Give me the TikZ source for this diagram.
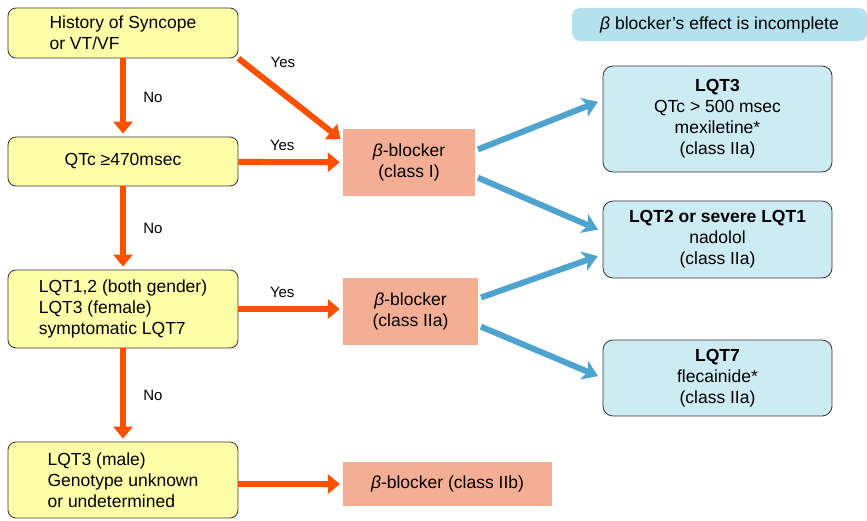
\documentclass[tikz,border=0pt]{standalone}
\usepackage{fontspec}
\setmainfont{Liberation Sans}
\usepackage{tikz}
\usetikzlibrary{arrows.meta}

\definecolor{qyellow}{HTML}{FFFFAA}
\definecolor{qsalmon}{HTML}{F4AE93}
\definecolor{qpale}{HTML}{CDEBF2}
\definecolor{qnote}{HTML}{B3E1EE}
\definecolor{qred}{HTML}{FF5000}
\definecolor{qblue}{HTML}{4FA3CF}
\newcommand{\bb}{\textit{β}}

\begin{document}
\begin{tikzpicture}[x=1pt,y=-1pt,
	every node/.style={font=\fontsize{17.5}{21}\selectfont},
	cond/.style={draw=black!80,line width=0.8pt,fill=qyellow,rounded corners=8pt,minimum width=230pt,align=left},
	drug/.style={fill=qsalmon,align=center},
	rec/.style={draw=black!80,line width=0.8pt,fill=qpale,rounded corners=10pt,minimum width=229pt,align=center},
	note/.style={fill=qnote,rounded corners=8pt,minimum width=295pt,minimum height=33pt},
	yesno/.style={text=black,font=\fontsize{15}{18}\selectfont},
	go/.style={qred,line width=6pt,shorten >=3pt,-{Triangle[length=12pt,width=19pt]}},
	more/.style={qblue,line width=6pt,shorten >=5pt,shorten <=3pt,-{Stealth[length=15pt,width=20pt,inset=4pt]}}]
	\useasboundingbox (0,0) rectangle (867,520);
	
	\node[cond,minimum height=50pt] (hist) at (123,33) {History of Syncope\\or VT/VF};
	\node[cond,minimum height=49pt,align=center] (qtc) at (123,161.5) {QTc ≥470msec};
	\node[cond,minimum height=78pt] (gene) at (123,309) {LQT1,2 (both gender)\\LQT3 (female)\\symptomatic LQT7};
	\node[cond,minimum height=76pt] (male) at (123,480) {LQT3 (male)\\Genotype unknown\\or undetermined};
	
	\node[drug,minimum width=132pt,minimum height=67pt] (bbI) at (409,162.5) {\bb-blocker\\(class I)};
	\node[drug,minimum width=135pt,minimum height=67pt] (bbIIa) at (410.5,311.5) {\bb-blocker\\(class IIa)};
	\node[drug,minimum width=209pt,minimum height=44pt] (bbIIb) at (447.5,484) {\bb-blocker (class IIb)};
	
	\node[note] (head) at (719.5,24.5) {\bb{} blocker’s effect is incomplete\hspace{10pt}};
	\node[rec,minimum height=106pt] (lqtA) at (717.5,119) {\textbf{LQT3}\\QTc > 500 msec\\mexiletine*\\(class IIa)};
	\node[rec,minimum height=77pt] (lqtB) at (717.5,239.5) {\textbf{LQT2 or severe LQT1}\\nadolol\\(class IIa)};
	\node[rec,minimum height=76pt] (lqtC) at (717.5,378) {\textbf{LQT7}\\flecainide*\\(class IIa)};
	
	\draw[go] (hist) -- node[yesno,right=14pt] (no1) {No} (qtc);
	\draw[go] (qtc) -- node[yesno,right=14pt] (no2) {No} (gene);
	\draw[go] (gene) -- node[yesno,right=14pt] (no3) {No} (male);
	
	\draw[go] (hist.south east) -- node[yesno,pos=0.22,above right=3pt] (yes1) {Yes} ([yshift=-12pt]bbI.north west);
	\draw[go] (qtc) -- node[yesno,pos=0.42,above=5pt] (yes2) {Yes} (bbI);
	\draw[go] (gene.east) -- node[yesno,pos=0.42,above=5pt] (yes3) {Yes} (gene.east -| bbIIa.west);
	\draw[go] (male.east |- bbIIb) -- (bbIIb.west);
	
	\draw[more] ([yshift=12pt]bbI.east) -- ([yshift=19pt]lqtA.west);
	\draw[more] ([yshift=-14pt]bbI.east) -- ([yshift=8pt]lqtB.west);
	\draw[more] ([yshift=13pt]bbIIa.east) -- ([yshift=-15pt]lqtB.west);
	\draw[more] ([yshift=-14pt]bbIIa.east) -- (lqtC.west);
\end{tikzpicture}
\end{document}
